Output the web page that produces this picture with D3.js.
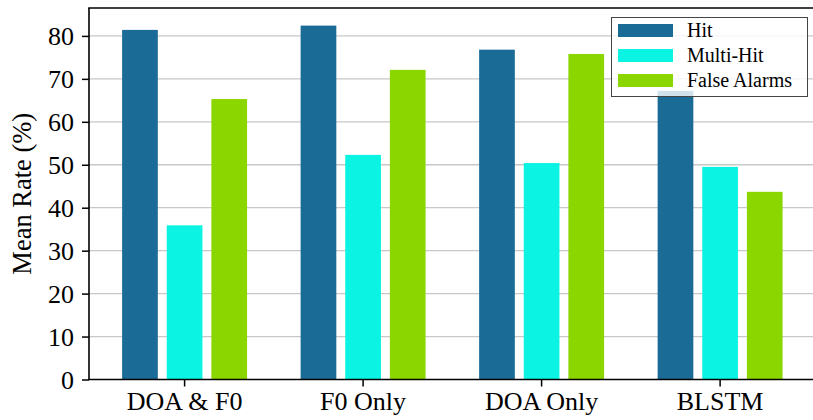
<!DOCTYPE html>
<html>
<head>
<meta charset="utf-8">
<script src="https://cdn.jsdelivr.net/npm/d3@7"></script>
<style>
  body { margin: 0; background: #fff; }
  svg { display: block; font-family: "Liberation Serif", "DejaVu Serif", serif; }
</style>
</head>
<body>
<svg id="chart" width="813" height="420"></svg>
<script>
// data
const categories = ["DOA & F0", "F0 Only", "DOA Only", "BLSTM"];
const seriesNames = ["Hit", "Multi-Hit", "False Alarms"];
const hitValues = [81.4, 82.4, 76.8, 67.2];
const multiHitValues = [35.9, 52.3, 50.4, 49.5];
const falseAlarmValues = [65.3, 72.1, 75.8, 43.7];
const yTicks = [0, 10, 20, 30, 40, 50, 60, 70, 80];
const colors = ["#1a6b96", "#0bf4e3", "#8cd600"];

const seriesValues = [hitValues, multiHitValues, falseAlarmValues];

//plot box
let plotLeft = 89, plotRight = 815.7, plotTop = 8, plotBottom = 379.5;

let svg = d3.select("#chart");

//ranges
let x0 = d3.scaleBand().domain(categories).range([plotLeft, plotRight])
    .paddingInner(0).paddingOuter(0.0355);
let S = x0.step();
let x1 = d3.scaleBand().domain(seriesNames).range([0.125 * S, 0.875 * S])
    .paddingInner(0.2).paddingOuter(0.1);
let y = d3.scaleLinear().domain([0, 86.5]).range([plotBottom, plotTop]);

//grid
svg.append("g")
    .selectAll("line")
    .data(yTicks.slice(1))
    .enter().append("line")
    .attr("x1", plotLeft).attr("x2", plotRight)
    .attr("y1", d => y(d)).attr("y2", d => y(d))
    .attr("stroke", "#c8c8c8")
    .attr("stroke-width", 1.3);

//bars
let rows = [];
categories.forEach((c, ci) => {
    seriesNames.forEach((s, si) => {
        rows.push({cat: c, series: s, si: si, value: seriesValues[si][ci]});
    });
});

svg.append("g")
    .selectAll("rect")
    .data(rows)
    .enter().append("rect")
    .attr("x", d => x0(d.cat) + x1(d.series))
    .attr("width", x1.bandwidth())
    .attr("y", d => y(d.value))
    .attr("height", d => y(0) - y(d.value))
    .attr("fill", d => colors[d.si]);

//y axis
let yAxis = svg.append("g")
    .attr("transform", "translate(" + plotLeft + ",0)")
    .call(d3.axisLeft(y).tickValues(yTicks).tickSize(7).tickPadding(8));
yAxis.select(".domain").remove();
yAxis.selectAll("line").attr("stroke", "#000").attr("stroke-width", 1.5);
yAxis.selectAll("text")
    .style("font-size", "26px")
    .style("font-family", "Liberation Serif")
    .attr("fill", "#000")
    .attr("dy", "0.34em");

//x axis
let xAxis = svg.append("g")
    .attr("transform", "translate(0," + plotBottom + ")")
    .call(d3.axisBottom(x0).tickSize(7).tickPadding(5));
xAxis.select(".domain").remove();
xAxis.selectAll("line").attr("stroke", "#000").attr("stroke-width", 1.5);
xAxis.selectAll("text")
    .style("font-size", "26px")
    .style("font-family", "Liberation Serif")
    .attr("fill", "#000");

//spines
svg.append("line").attr("x1", plotLeft).attr("x2", plotLeft).attr("y1", plotTop).attr("y2", plotBottom)
    .attr("stroke", "#000").attr("stroke-width", 1.6);
svg.append("line").attr("x1", plotLeft - 0.8).attr("x2", 813).attr("y1", plotBottom).attr("y2", plotBottom)
    .attr("stroke", "#000").attr("stroke-width", 1.6);
svg.append("line").attr("x1", plotLeft - 0.8).attr("x2", 813).attr("y1", plotTop).attr("y2", plotTop)
    .attr("stroke", "#000").attr("stroke-width", 1.6);

//y axis label
svg.append("text")
    .attr("transform", "translate(31," + (plotTop + plotBottom) / 2 + ") rotate(-90)")
    .style("text-anchor", "middle")
    .style("font-size", "26.5px")
    .text("Mean Rate (%)");

//legend
let legend = svg.append("g");
legend.append("rect")
    .attr("x", 611.5).attr("y", 17.5)
    .attr("width", 196).attr("height", 79)
    .attr("fill", "#fff").attr("fill-opacity", 0.8)
    .attr("stroke", "#444").attr("stroke-width", 1);
let items = legend.selectAll(".item")
    .data(seriesNames)
    .enter().append("g")
    .attr("transform", (d, i) => "translate(0," + (30.5 + i * 25) + ")");
items.append("rect")
    .attr("x", 618).attr("y", -6.5)
    .attr("width", 55).attr("height", 13)
    .attr("fill", (d, i) => colors[i]);
items.append("text")
    .attr("x", 687).attr("y", 6.3)
    .style("font-size", "20px")
    .text(d => d);
</script>
</body>
</html>
